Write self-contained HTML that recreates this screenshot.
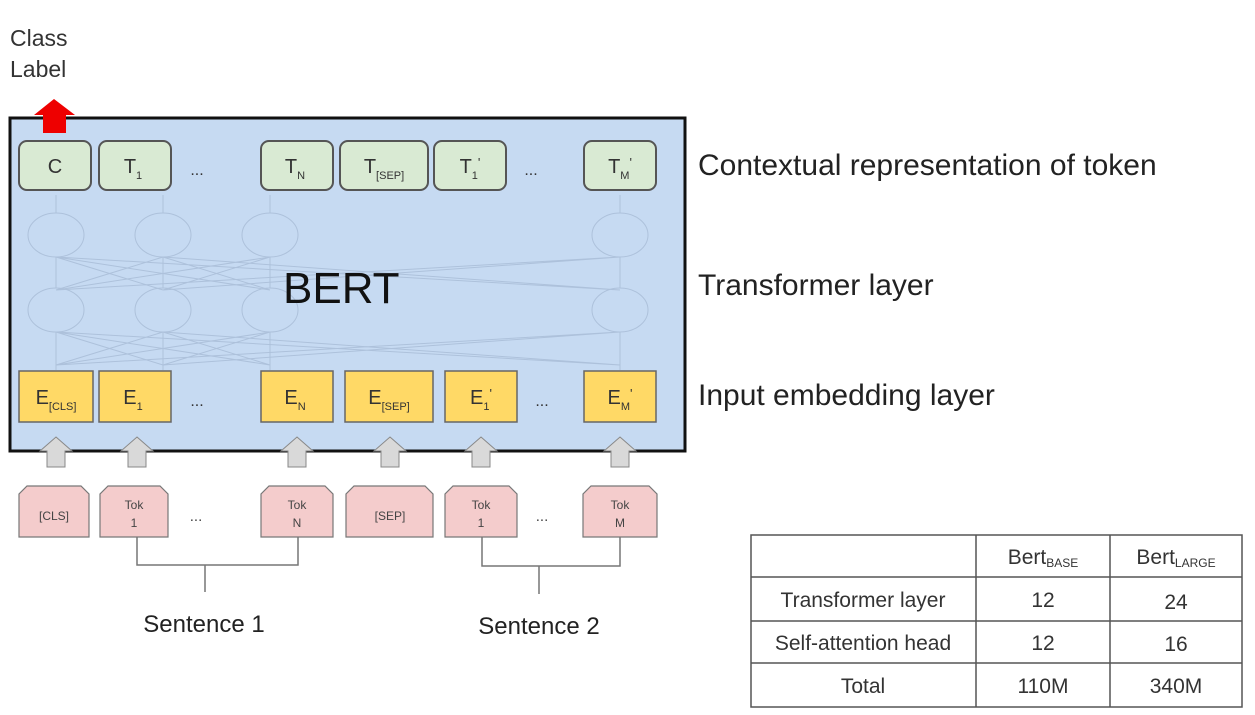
<!DOCTYPE html>
<html><head><meta charset="utf-8"><style>
html,body{margin:0;padding:0;background:#fff;width:1255px;height:715px;overflow:hidden}
svg{display:block}
text{font-family:"Liberation Sans",sans-serif}
</style></head><body>
<svg width="1255" height="715" viewBox="0 0 1255 715" xmlns="http://www.w3.org/2000/svg">
<text x="10" y="46" font-size="23" fill="#333">Class</text>
<text x="10" y="77" font-size="23" fill="#333">Label</text>
<rect x="10" y="118" width="675" height="333" fill="#c6daf2" stroke="#111" stroke-width="3"/>
<polygon points="54,99 75,115 66,115 66,133 43,133 43,115 34,115" fill="#e00"/>
<!-- faint network -->
<g stroke="#a8bcd6" stroke-width="1" fill="none" opacity="0.8">
<ellipse cx="56" cy="235" rx="28" ry="22"/><ellipse cx="163" cy="235" rx="28" ry="22"/><ellipse cx="270" cy="235" rx="28" ry="22"/><ellipse cx="620" cy="235" rx="28" ry="22"/>
<ellipse cx="56" cy="310" rx="28" ry="22"/><ellipse cx="163" cy="310" rx="28" ry="22"/><ellipse cx="270" cy="310" rx="28" ry="22"/><ellipse cx="620" cy="310" rx="28" ry="22"/>
<path d="M56,370V332M163,370V332M270,370V332M620,370V332M56,288V257M163,288V257M270,288V257M620,288V257M56,213V195M163,213V195M270,213V195M620,213V195"/>
<path d="M56,365L163,332M56,365L270,332M56,365L620,332M163,365L56,332M163,365L270,332M163,365L620,332M270,365L56,332M270,365L163,332M620,365L56,332M620,365L163,332"/>
<path d="M56,290L163,257M56,290L270,257M56,290L620,257M163,290L56,257M163,290L270,257M163,290L620,257M270,290L56,257M270,290L163,257M620,290L56,257M620,290L163,257"/>
</g>
<text x="283" y="303" font-size="44" fill="#111">BERT</text>
<!-- green -->
<g fill="#d9ead3" stroke="#555" stroke-width="2">
<rect x="19" y="141" width="72" height="49" rx="8"/><rect x="99" y="141" width="72" height="49" rx="8"/>
<rect x="261" y="141" width="72" height="49" rx="8"/><rect x="340" y="141" width="88" height="49" rx="8"/>
<rect x="434" y="141" width="72" height="49" rx="8"/><rect x="584" y="141" width="72" height="49" rx="8"/>
</g>
<g font-size="20" fill="#333" text-anchor="middle">
<text x="55" y="173">C</text>
<text x="133" y="173">T<tspan font-size="11" dy="6">1</tspan></text>
<text x="295" y="173">T<tspan font-size="11" dy="6">N</tspan></text>
<text x="384" y="173">T<tspan font-size="11" dy="6">[SEP]</tspan></text>
<text x="470" y="173">T<tspan font-size="11" dy="6">1</tspan><tspan dy="-12" font-size="13">'</tspan></text>
<text x="620" y="173">T<tspan font-size="11" dy="6">M</tspan><tspan dy="-12" font-size="13">'</tspan></text>
<text x="197" y="175" font-size="16">...</text><text x="531" y="175" font-size="16">...</text>
</g>
<!-- orange -->
<g fill="#ffd966" stroke="#666" stroke-width="1.5">
<rect x="19" y="371" width="74" height="51"/><rect x="99" y="371" width="72" height="51"/>
<rect x="261" y="371" width="72" height="51"/><rect x="345" y="371" width="88" height="51"/>
<rect x="445" y="371" width="72" height="51"/><rect x="584" y="371" width="72" height="51"/>
</g>
<g font-size="20" fill="#333" text-anchor="middle">
<text x="56" y="404">E<tspan font-size="11" dy="6">[CLS]</tspan></text>
<text x="133" y="404">E<tspan font-size="11" dy="6">1</tspan></text>
<text x="295" y="404">E<tspan font-size="11" dy="6">N</tspan></text>
<text x="389" y="404">E<tspan font-size="11" dy="6">[SEP]</tspan></text>
<text x="481" y="404">E<tspan font-size="11" dy="6">1</tspan><tspan dy="-12" font-size="13">'</tspan></text>
<text x="620" y="404">E<tspan font-size="11" dy="6">M</tspan><tspan dy="-12" font-size="13">'</tspan></text>
<text x="197" y="406" font-size="16">...</text><text x="542" y="406" font-size="16">...</text>
</g>
<!-- gray arrows -->
<g fill="#d9d9d9" stroke="#888" stroke-width="1">
<polygon points="56,437 72,451 65,451 65,467 47,467 47,451 40,451"/>
<polygon points="137,437 153,451 146,451 146,467 128,467 128,451 121,451"/>
<polygon points="297,437 313,451 306,451 306,467 288,467 288,451 281,451"/>
<polygon points="390,437 406,451 399,451 399,467 381,467 381,451 374,451"/>
<polygon points="481,437 497,451 490,451 490,467 472,467 472,451 465,451"/>
<polygon points="620,437 636,451 629,451 629,467 611,467 611,451 604,451"/>
</g>
<!-- pink tokens -->
<g fill="#f4cccc" stroke="#777" stroke-width="1.2">
<polygon points="27,486 81,486 89,494 89,537 19,537 19,494"/>
<polygon points="108,486 160,486 168,494 168,537 100,537 100,494"/>
<polygon points="269,486 325,486 333,494 333,537 261,537 261,494"/>
<polygon points="354,486 425,486 433,494 433,537 346,537 346,494"/>
<polygon points="453,486 509,486 517,494 517,537 445,537 445,494"/>
<polygon points="591,486 649,486 657,494 657,537 583,537 583,494"/>
</g>
<g font-size="12" fill="#444" text-anchor="middle">
<text x="54" y="520">[CLS]</text>
<text x="134" y="509">Tok</text><text x="134" y="527">1</text>
<text x="297" y="509">Tok</text><text x="297" y="527">N</text>
<text x="390" y="520">[SEP]</text>
<text x="481" y="509">Tok</text><text x="481" y="527">1</text>
<text x="620" y="509">Tok</text><text x="620" y="527">M</text>
<text x="196" y="521" font-size="15">...</text><text x="542" y="521" font-size="15">...</text>
</g>
<g stroke="#777" stroke-width="1.5" fill="none">
<path d="M137,537V565H298V537M205,565V592"/>
<path d="M482,537V566H620V537M539,566V594"/>
</g>
<text x="204" y="632" font-size="24" fill="#222" text-anchor="middle">Sentence 1</text>
<text x="539" y="634" font-size="24" fill="#222" text-anchor="middle">Sentence 2</text>
<g font-size="30" fill="#222">
<text x="698" y="175">Contextual representation of token</text>
<text x="698" y="295">Transformer layer</text>
<text x="698" y="405">Input embedding layer</text>
</g>
<!-- table -->
<g stroke="#555" stroke-width="1.5" fill="none">
<rect x="751" y="535" width="491" height="172"/>
<path d="M976,535V707M1110,535V707M751,577H1242M751,621H1242M751,663H1242"/>
</g>
<g font-size="21" fill="#333" text-anchor="middle">
<text x="1043" y="564">Bert<tspan font-size="12" dy="3">BASE</tspan></text>
<text x="1176" y="564">Bert<tspan font-size="12" dy="3">LARGE</tspan></text>
<text x="863" y="607">Transformer layer</text><text x="1043" y="607">12</text><text x="1176" y="609">24</text>
<text x="863" y="650">Self-attention head</text><text x="1043" y="650">12</text><text x="1176" y="651">16</text>
<text x="863" y="693">Total</text><text x="1043" y="693">110M</text><text x="1176" y="693">340M</text>
</g>
</svg>
</body></html>
